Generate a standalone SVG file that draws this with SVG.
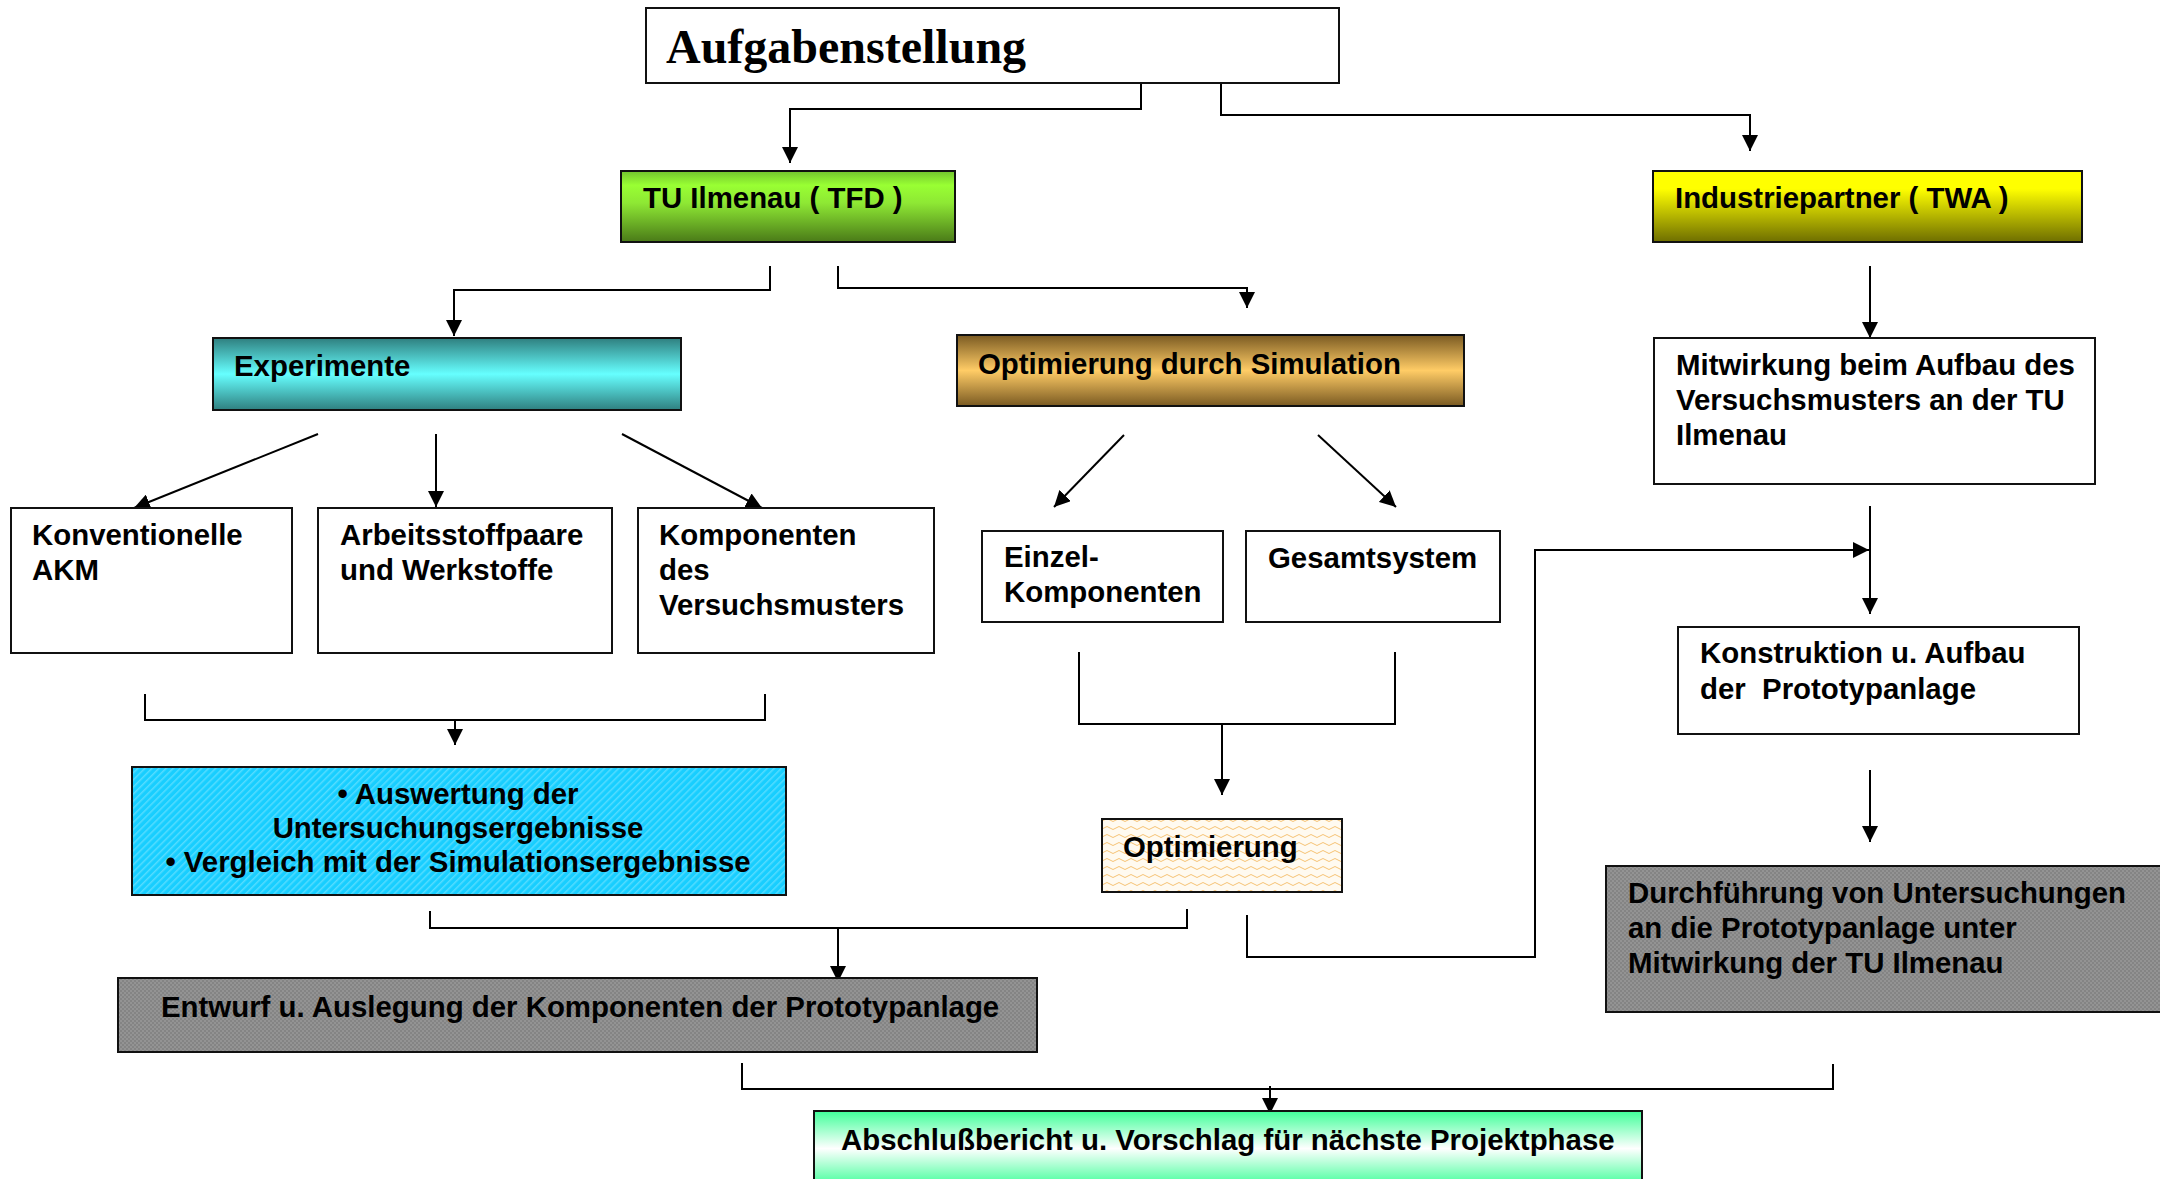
<svg xmlns="http://www.w3.org/2000/svg" width="2160" height="1179" viewBox="0 0 2160 1179">
<style>
.box{stroke:#111;stroke-width:2}
.t{font-family:"Liberation Sans",Arial,sans-serif;font-weight:bold;font-size:29.4px;fill:#000}
.title{font-family:"Liberation Serif","Times New Roman",serif;font-weight:bold;font-size:48px;fill:#000}
.c{fill:none;stroke:#000;stroke-width:2}
</style>
<defs>
<marker id="ah" markerUnits="userSpaceOnUse" markerWidth="16" markerHeight="16" refX="16" refY="8" orient="auto">
<path d="M0,0 L16,8 L0,16 z" fill="#000"/>
</marker>
<linearGradient id="gGreen" x1="0" y1="0" x2="0" y2="1">
<stop offset="0" stop-color="#72c42e"/><stop offset="0.2" stop-color="#99ff33"/><stop offset="0.45" stop-color="#8ee834"/><stop offset="1" stop-color="#4a7a18"/>
</linearGradient>
<linearGradient id="gCyan" x1="0" y1="0" x2="0" y2="1">
<stop offset="0" stop-color="#2f7f7f"/><stop offset="0.5" stop-color="#66ffff"/><stop offset="1" stop-color="#2f7f7f"/>
</linearGradient>
<linearGradient id="gGold" x1="0" y1="0" x2="0" y2="1">
<stop offset="0" stop-color="#7a5a22"/><stop offset="0.5" stop-color="#ffcc66"/><stop offset="1" stop-color="#7a5a22"/>
</linearGradient>
<linearGradient id="gYellow" x1="0" y1="0" x2="0" y2="1">
<stop offset="0" stop-color="#ffff00"/><stop offset="0.25" stop-color="#ffff00"/><stop offset="1" stop-color="#6e6e00"/>
</linearGradient>
<linearGradient id="gMint" x1="0" y1="0" x2="0" y2="1">
<stop offset="0" stop-color="#40ff99"/><stop offset="0.5" stop-color="#ffffff"/><stop offset="1" stop-color="#40ff99"/>
</linearGradient>
<pattern id="pHatch" width="5" height="5" patternUnits="userSpaceOnUse" patternTransform="rotate(45)">
<rect width="5" height="5" fill="#18ceff"/><rect width="1.5" height="5" fill="#55dcff"/>
</pattern>
<pattern id="pWave" width="12" height="8" patternUnits="userSpaceOnUse">
<rect width="12" height="8" fill="#fffaf0"/><path d="M0 4 Q3 1 6 4 T12 4" fill="none" stroke="#f6c274" stroke-width="1"/>
</pattern>
<pattern id="pGray" width="4" height="4" patternUnits="userSpaceOnUse">
<rect width="4" height="4" fill="#848484"/><rect width="2" height="2" fill="#939393"/><rect x="2" y="2" width="2" height="2" fill="#939393"/>
</pattern>
</defs>
<rect width="2160" height="1179" fill="#fff"/>

<g id="connectors">
<path class="c" d="M1141 74 V109 H790 V163" marker-end="url(#ah)"/>
<path class="c" d="M1221 76 V115 H1750 V151" marker-end="url(#ah)"/>
<path class="c" d="M770 266 V290 H454 V336" marker-end="url(#ah)"/>
<path class="c" d="M838 266 V288 H1247 V308" marker-end="url(#ah)"/>
<path class="c" d="M318 434 L134 508" marker-end="url(#ah)"/>
<path class="c" d="M436 434 V507" marker-end="url(#ah)"/>
<path class="c" d="M622 434 L762 508" marker-end="url(#ah)"/>
<path class="c" d="M1124 435 L1054 507" marker-end="url(#ah)"/>
<path class="c" d="M1318 435 L1396 507" marker-end="url(#ah)"/>
<path class="c" d="M145 694 V720 H765 V694"/>
<path class="c" d="M455 720 V745" marker-end="url(#ah)"/>
<path class="c" d="M1079 652 V724 H1395 V652"/>
<path class="c" d="M1222 724 V795" marker-end="url(#ah)"/>
<path class="c" d="M430 911 V928 H1187 V909"/>
<path class="c" d="M838 928 V982" marker-end="url(#ah)"/>
<path class="c" d="M1247 915 V957 H1535 V550 H1869" marker-end="url(#ah)"/>
<path class="c" d="M1870 266 V338" marker-end="url(#ah)"/>
<path class="c" d="M1870 506 V614" marker-end="url(#ah)"/>
<path class="c" d="M1870 770 V842" marker-end="url(#ah)"/>
<path class="c" d="M742 1063 V1089 H1833 V1064"/>
<path class="c" d="M1270 1086 V1114" marker-end="url(#ah)"/>
</g>

<g id="aufgabenstellung">
<rect class="box" x="646" y="8" width="693" height="75" fill="#fff"/>
<text class="title" x="666" y="63">Aufgabenstellung</text>
</g>
<g id="tu-ilmenau">
<rect class="box" x="621" y="171" width="334" height="71" fill="url(#gGreen)"/>
<text class="t" x="643" y="208">TU Ilmenau ( TFD )</text>
</g>
<g id="industriepartner">
<rect class="box" x="1653" y="171" width="429" height="71" fill="url(#gYellow)"/>
<text class="t" x="1675" y="208">Industriepartner ( TWA )</text>
</g>
<g id="experimente">
<rect class="box" x="213" y="338" width="468" height="72" fill="url(#gCyan)"/>
<text class="t" x="234" y="376">Experimente</text>
</g>
<g id="optimierung-simulation">
<rect class="box" x="957" y="335" width="507" height="71" fill="url(#gGold)"/>
<text class="t" x="978" y="374">Optimierung durch Simulation</text>
</g>
<g id="mitwirkung">
<rect class="box" x="1654" y="338" width="441" height="146" fill="#fff"/>
<text class="t" x="1676" y="375">Mitwirkung beim Aufbau des</text>
<text class="t" x="1676" y="410">Versuchsmusters an der TU</text>
<text class="t" x="1676" y="445">Ilmenau</text>
</g>
<g id="konventionelle">
<rect class="box" x="11" y="508" width="281" height="145" fill="#fff"/>
<text class="t" x="32" y="545">Konventionelle</text>
<text class="t" x="32" y="580">AKM</text>
</g>
<g id="arbeitsstoffpaare">
<rect class="box" x="318" y="508" width="294" height="145" fill="#fff"/>
<text class="t" x="340" y="545">Arbeitsstoffpaare</text>
<text class="t" x="340" y="580">und Werkstoffe</text>
</g>
<g id="komponenten">
<rect class="box" x="638" y="508" width="296" height="145" fill="#fff"/>
<text class="t" x="659" y="545">Komponenten</text>
<text class="t" x="659" y="580">des</text>
<text class="t" x="659" y="615">Versuchsmusters</text>
</g>
<g id="einzelkomponenten">
<rect class="box" x="982" y="531" width="241" height="91" fill="#fff"/>
<text class="t" x="1004" y="567">Einzel-</text>
<text class="t" x="1004" y="602">Komponenten</text>
</g>
<g id="gesamtsystem">
<rect class="box" x="1246" y="531" width="254" height="91" fill="#fff"/>
<text class="t" x="1268" y="568">Gesamtsystem</text>
</g>
<g id="konstruktion">
<rect class="box" x="1678" y="627" width="401" height="107" fill="#fff"/>
<text class="t" x="1700" y="663">Konstruktion u. Aufbau</text>
<text class="t" x="1700" y="699">der&#160; Prototypanlage</text>
</g>
<g id="auswertung">
<rect class="box" x="132" y="767" width="654" height="128" fill="url(#pHatch)"/>
<text class="t" x="458" y="804" text-anchor="middle">• Auswertung der</text>
<text class="t" x="458" y="838" text-anchor="middle">Untersuchungsergebnisse</text>
<text class="t" x="458" y="872" text-anchor="middle">• Vergleich mit der Simulationsergebnisse</text>
</g>
<g id="optimierung">
<rect class="box" x="1102" y="819" width="240" height="73" fill="url(#pWave)"/>
<text class="t" x="1123" y="857">Optimierung</text>
</g>
<g id="durchfuehrung">
<rect class="box" x="1606" y="866" width="570" height="146" fill="url(#pGray)"/>
<text class="t" x="1628" y="903">Durchführung von Untersuchungen</text>
<text class="t" x="1628" y="938">an die Prototypanlage unter</text>
<text class="t" x="1628" y="973">Mitwirkung der TU Ilmenau</text>
</g>
<g id="entwurf">
<rect class="box" x="118" y="978" width="919" height="74" fill="url(#pGray)"/>
<text class="t" x="161" y="1017">Entwurf u. Auslegung der Komponenten der Prototypanlage</text>
</g>
<g id="abschlussbericht">
<rect class="box" x="814" y="1111" width="828" height="75" fill="url(#gMint)"/>
<text class="t" x="841" y="1150">Abschlußbericht u. Vorschlag für nächste Projektphase</text>
</g>
</svg>
